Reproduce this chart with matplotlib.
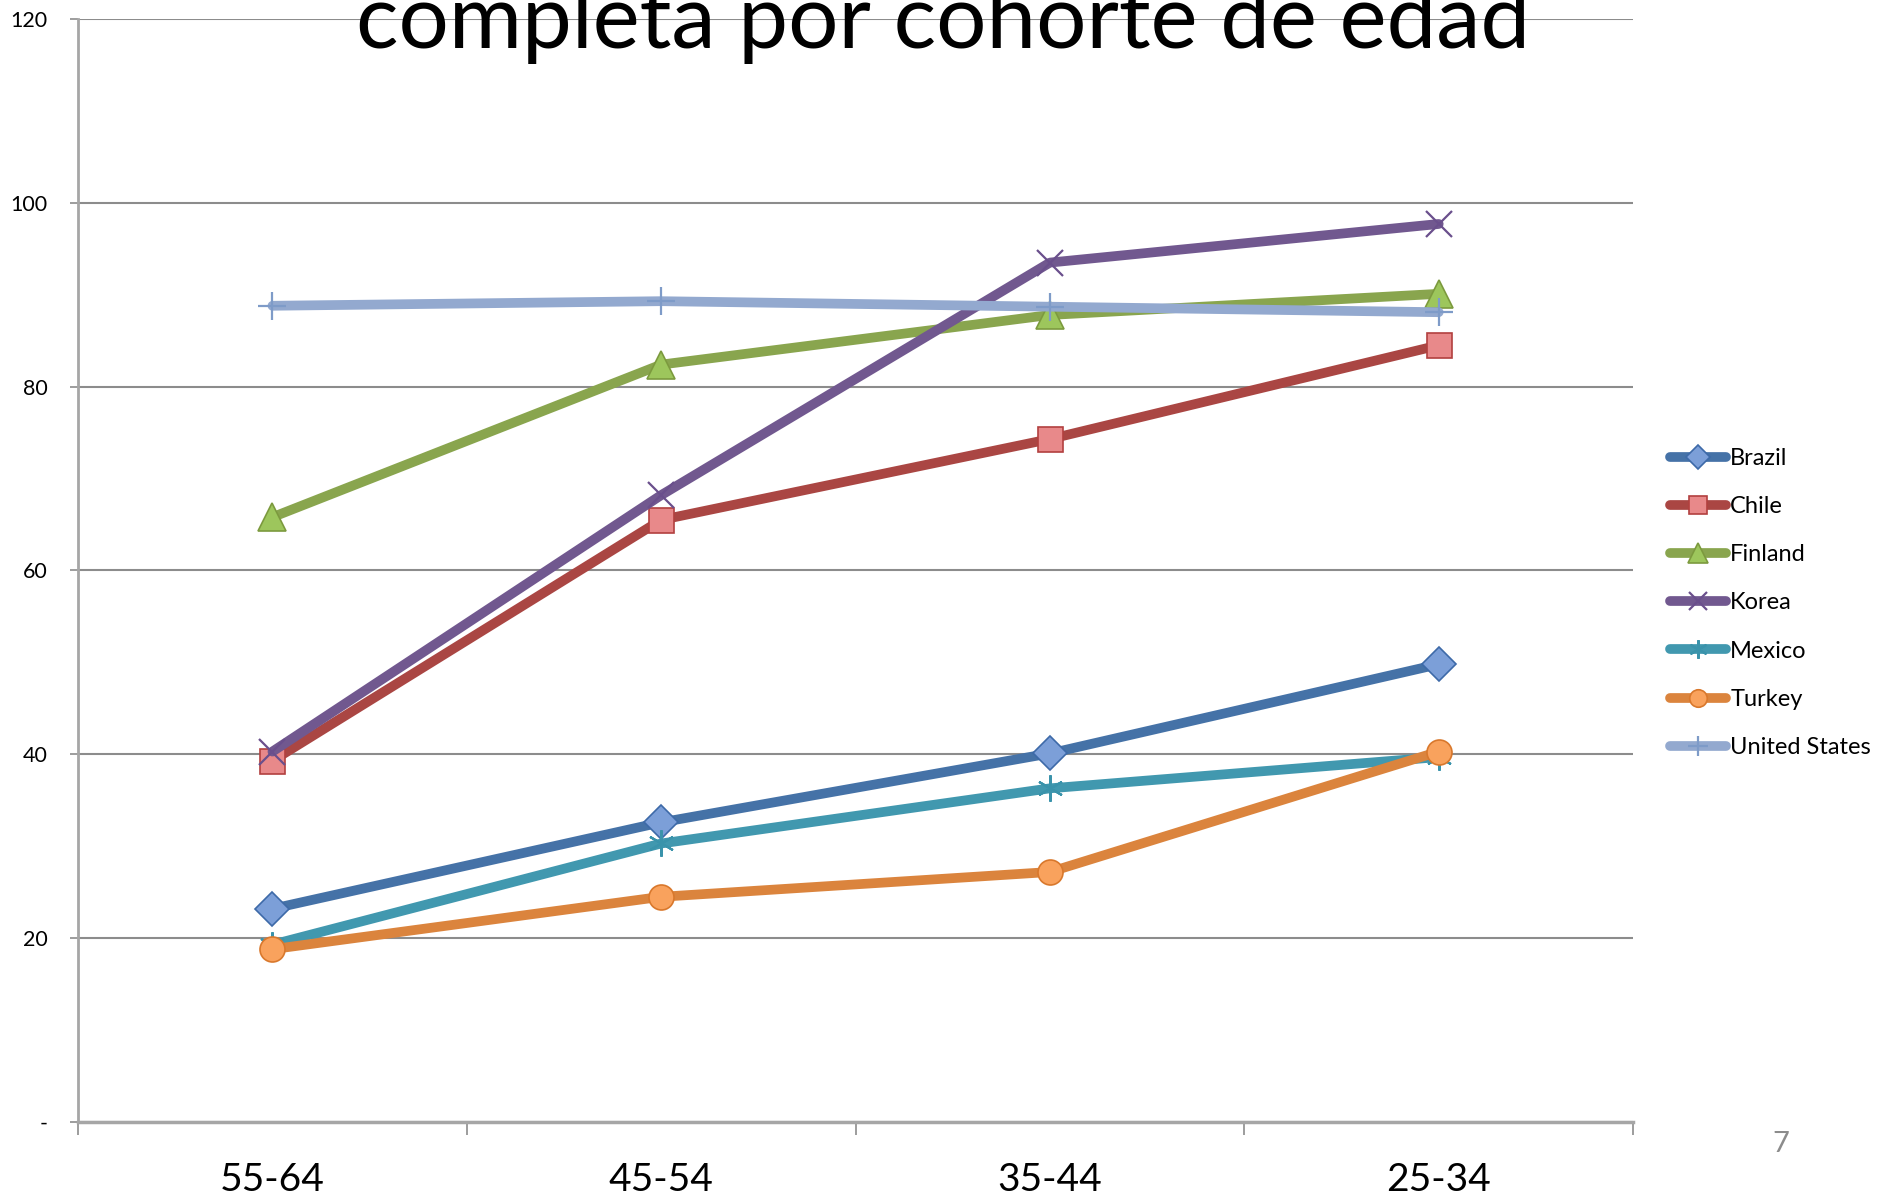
import matplotlib
matplotlib.use('Agg') # no display
import matplotlib.pyplot as plt
import numpy as np

cohorts = ["55-64", "45-54", "35-44", "25-34"]
countries = ["Brazil", "Chile", "Finland", "Korea", "Mexico", "Turkey", "United States"]
brazil = [23.2, 32.6, 40.1, 49.8]
chile = [39.3, 65.5, 74.3, 84.5]
finland = [65.8, 82.4, 87.8, 90.1]
korea = [40.3, 68.2, 93.5, 97.7]
mexico = [19.3, 30.3, 36.3, 39.7]
turkey = [18.8, 24.5, 27.2, 40.3]
united_states = [88.8, 89.3, 88.7, 88.1]
yticks = [0, 20, 40, 60, 80, 100, 120]
ytick_labels = ["-", "20", "40", "60", "80", "100", "120"]

series = [brazil, chile, finland, korea, mexico, turkey, united_states]

# line colour, marker, marker size, marker fill, marker edge, marker edge width
styles = [
  ("#4572A7", "D", 17, "#7C9FD8", "#3D6AA8", 1.2),
  ("#AA4643", "s", 18, "#E8898A", "#B2403F", 1.2),
  ("#89A54E", "^", 20, "#9DC65C", "#7C9A3E", 1.2),
  ("#71588F", "x", 19, "#71588F", "#6A4F8C", 1.6),
  ("#4198AF", (6, 2, 0), 19, "#4198AF", "#3A93AB", 1.6),
  ("#DB843D", "o", 18, "#F9A25D", "#D9782C", 1.2),
  ("#93A9CF", "+", 20, "#7E9BC8", "#7E9BC8", 1.6),
]

plt.rcParams['font.family'] = ['Lato', 'DejaVu Sans']

fig = plt.figure(figsize=(18.81, 11.95), dpi=100)
ax = fig.add_axes([0.0415, 0.0611, 0.8267, 0.923])

x = np.arange(len(cohorts))
for name, values, st in zip(countries, series, styles):
  color, marker, ms, fill, edge, mew = st
  ax.plot(x, values, color=color, lw=7, marker=marker, markersize=ms,
          markerfacecolor=fill, markeredgecolor=edge, markeredgewidth=mew,
          solid_capstyle='round', label=name)

ax.set_xlim(-0.5, len(cohorts) - 0.5)
ax.set_ylim(0, 120)
ax.set_yticks(yticks)
ax.set_yticklabels(ytick_labels, fontsize=15.5)
ax.tick_params(axis='y', length=6, width=1.2, color='#8C8C8C', pad=16)
ax.grid(axis='y', color='#8C8C8C', lw=1.5)
ax.set_axisbelow(True)

# category boundaries get tick marks, labels sit at category centres
ax.set_xticks(np.arange(len(cohorts) + 1) - 0.5)
ax.set_xticklabels([])
ax.set_xticks(x, minor=True)
ax.set_xticklabels(cohorts, minor=True, fontsize=28)
ax.tick_params(axis='x', which='major', length=9, width=1.2, color='#8C8C8C')
ax.tick_params(axis='x', which='minor', length=0, pad=29)

for side in ['top', 'right']:
  ax.spines[side].set_visible(False)
ax.spines['left'].set_color('#A6A6A6')
ax.spines['left'].set_linewidth(2)
ax.spines['bottom'].set_color('#A6A6A6')
ax.spines['bottom'].set_linewidth(2.5)

fig.text(0.5013, 0.96, "completa por cohorte de edad", ha='center', va='baseline', fontsize=64)

ax.legend(loc='center left', bbox_to_anchor=(0.888, 0.4954), bbox_transform=fig.transFigure,
          frameon=False, fontsize=17, handlelength=2.37, handletextpad=0.17,
          labelspacing=1.15, borderpad=0, borderaxespad=0, markerscale=0.7)

fig.text(0.947, 0.036, "7", ha='center', va='baseline', fontsize=21, color='#8C8C8C')

fig.savefig('out.png', dpi=100)
plt.close(fig)
